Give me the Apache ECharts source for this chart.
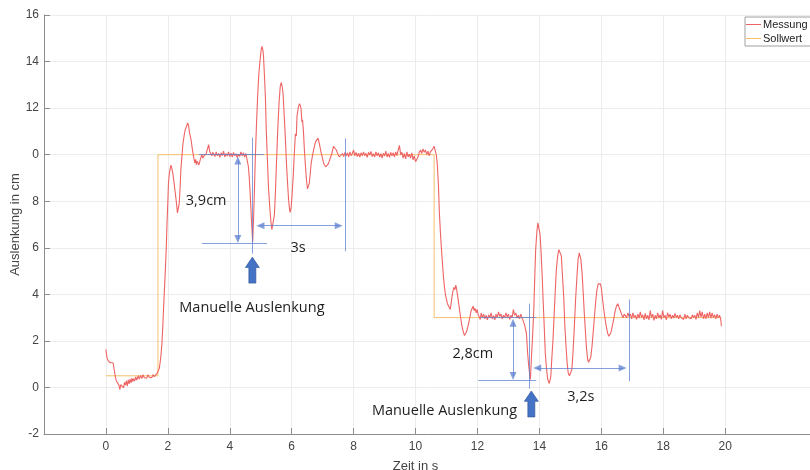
<!DOCTYPE html>
<html>
<head>
<meta charset="utf-8">
<script src="https://cdn.jsdelivr.net/npm/echarts@6/dist/echarts.min.js"></script>
<style>
  html, body { margin: 0; padding: 0; background: #fff; }
  #chart { width: 810px; height: 470px; }
</style>
</head>
<body>
<div id="chart"></div>
<script>
// Gemessene Auslenkung [Zeit in s, Auslenkung in cm]
const messung = [
  [0,1.63],[0.03,1.3],[0.07,1.15],[0.1,1.2],[0.14,1.06],[0.18,1.12],[0.23,1.06],[0.27,0.75],[0.3,0.49],[0.33,0.3],
  [0.36,0.22],[0.39,0.3],[0.42,0.1],[0.45,-0.09],[0.48,0.12],[0.51,0.05],[0.54,0.18],[0.57,-0.02],[0.6,0.22],[0.63,0.1],
  [0.66,0.28],[0.69,0.06],[0.72,0.33],[0.75,0.15],[0.78,0.36],[0.81,0.2],[0.84,0.4],[0.87,0.25],[0.9,0.38],[0.93,0.28],
  [0.96,0.45],[1.0,0.32],[1.04,0.5],[1.08,0.36],[1.12,0.52],[1.16,0.38],[1.2,0.55],[1.24,0.42],[1.28,0.5],[1.32,0.4],
  [1.36,0.55],[1.4,0.44],[1.44,0.52],[1.48,0.42],[1.52,0.55],[1.56,0.46],[1.6,0.52],[1.64,0.58],[1.68,0.62],[1.72,0.8],
  [1.75,1.06],[1.78,1.4],[1.81,1.92],[1.84,2.7],[1.86,3.35],[1.89,4.2],[1.92,5.06],[1.95,6.0],[1.97,6.92],[2.0,8.0],
  [2.02,8.78],[2.05,9.2],[2.08,9.43],[2.1,9.55],[2.12,9.45],[2.14,9.5],[2.16,9.21],[2.2,8.8],[2.24,8.36],[2.28,7.9],
  [2.31,7.5],[2.34,7.7],[2.37,7.93],[2.4,8.7],[2.42,9.36],[2.46,10.0],[2.49,10.5],[2.53,10.85],[2.56,11.07],[2.6,11.2],
  [2.64,11.36],[2.67,11.25],[2.7,10.95],[2.75,10.64],[2.79,10.25],[2.83,9.93],[2.87,9.65],[2.9,9.8],[2.92,9.57],[2.95,9.72],
  [2.97,9.67],[3.0,9.55],[3.02,9.6],[3.06,9.85],[3.1,10.0],[3.13,9.85],[3.17,9.95],[3.2,9.93],[3.24,10.05],[3.28,10.25],
  [3.32,10.43],[3.35,10.15],[3.38,10.14],[3.42,9.95],[3.45,10.1],[3.48,10.07],[3.52,9.92],[3.56,10.12],[3.6,9.95],[3.64,10.05],
  [3.68,9.88],[3.72,10.08],[3.76,9.96],[3.8,10.15],[3.84,9.9],[3.88,10.05],[3.92,9.94],[3.96,10.12],[4.0,9.92],[4.04,10.06],
  [4.08,9.9],[4.12,10.1],[4.16,9.95],[4.2,10.04],[4.24,9.88],[4.28,10.02],[4.32,9.92],[4.36,10.12],[4.4,9.95],[4.44,10.08],
  [4.48,9.9],[4.52,10.05],[4.55,9.98],[4.6,9.5],[4.63,9.0],[4.66,8.3],[4.7,7.2],[4.74,6.24],[4.77,7.3],[4.8,8.6],
  [4.82,9.64],[4.86,11.2],[4.9,12.5],[4.94,13.5],[4.99,14.22],[5.02,14.55],[5.04,14.65],[5.07,14.5],[5.09,14.22],[5.12,13.4],
  [5.15,12.5],[5.18,11.0],[5.22,9.64],[5.25,8.6],[5.29,7.78],[5.33,7.1],[5.36,6.78],[5.39,6.7],[5.41,6.82],[5.44,7.4],
  [5.47,8.21],[5.51,9.7],[5.55,11.07],[5.59,12.2],[5.63,12.93],[5.66,13.1],[5.69,12.95],[5.72,12.65],[5.76,11.64],[5.8,10.6],
  [5.83,9.64],[5.87,8.7],[5.9,8.07],[5.93,7.65],[5.95,7.52],[5.98,7.7],[6.01,8.21],[6.05,9.1],[6.08,9.93],[6.12,10.9],
  [6.15,10.8],[6.17,11.64],[6.21,12.0],[6.25,12.19],[6.28,12.1],[6.3,12.0],[6.33,11.4],[6.35,11.5],[6.38,11.0],[6.41,10.21],
  [6.44,9.6],[6.46,9.21],[6.49,8.75],[6.51,8.53],[6.54,8.6],[6.57,8.78],[6.6,9.2],[6.63,9.64],[6.67,9.95],[6.71,10.21],
  [6.75,10.45],[6.78,10.57],[6.82,10.65],[6.85,10.71],[6.88,10.55],[6.9,10.43],[6.94,10.15],[6.98,9.93],[7.02,9.7],[7.05,9.57],
  [7.1,9.48],[7.14,9.5],[7.18,9.6],[7.21,9.71],[7.26,9.9],[7.3,10.07],[7.33,10.25],[7.35,10.36],[7.38,10.3],[7.41,10.43],
  [7.44,10.2],[7.46,10.14],[7.5,10.0],[7.54,9.9],[7.57,9.86],[7.6,9.95],[7.64,10.05],[7.68,9.92],[7.72,10.1],[7.76,9.95],
  [7.8,10.08],[7.84,9.9],[7.88,10.12],[7.92,9.96],[7.96,10.05],[8.0,10.2],[8.04,9.95],[8.08,10.1],[8.12,9.92],[8.16,10.06],
  [8.2,9.9],[8.24,10.08],[8.28,9.95],[8.32,10.12],[8.36,9.96],[8.4,10.05],[8.44,9.88],[8.48,10.1],[8.52,9.98],[8.56,10.14],
  [8.6,9.92],[8.64,10.04],[8.68,9.9],[8.72,10.12],[8.76,9.95],[8.8,10.08],[8.84,9.9],[8.88,10.04],[8.92,9.85],[8.96,10.06],
  [9.0,9.94],[9.04,10.15],[9.08,9.9],[9.12,10.05],[9.16,9.88],[9.2,10.1],[9.24,9.95],[9.28,10.08],[9.32,9.9],[9.36,10.12],
  [9.4,9.96],[9.44,10.2],[9.48,10.4],[9.52,10.0],[9.56,10.1],[9.6,9.85],[9.64,10.05],[9.68,9.82],[9.72,10.12],[9.76,9.9],
  [9.8,10.02],[9.84,9.85],[9.88,10.08],[9.92,9.78],[9.96,9.95],[10.0,9.7],[10.04,9.64],[10.08,9.9],[10.12,10.1],[10.16,10.2],
  [10.2,10.05],[10.24,10.25],[10.28,10.1],[10.32,10.2],[10.36,10.0],[10.4,10.15],[10.44,9.95],[10.48,10.12],[10.52,10.05],[10.56,10.25],
  [10.6,10.36],[10.64,10.33],[10.67,10.0],[10.7,9.64],[10.74,8.7],[10.77,7.5],[10.81,6.5],[10.86,5.5],[10.9,4.8],[10.93,4.35],
  [10.97,3.95],[11.0,3.78],[11.03,3.6],[11.07,3.49],[11.1,3.42],[11.12,3.35],[11.15,3.6],[11.18,3.92],[11.21,4.15],[11.24,4.3],
  [11.27,4.2],[11.3,4.4],[11.33,4.2],[11.36,3.92],[11.4,3.55],[11.45,3.06],[11.5,2.63],[11.54,2.4],[11.58,2.23],[11.61,2.3],
  [11.64,2.37],[11.68,2.55],[11.72,2.78],[11.76,3.05],[11.79,3.27],[11.83,3.4],[11.86,3.49],[11.89,3.3],[11.92,3.4],[11.96,3.2],
  [11.99,3.35],[12.02,3.15],[12.05,3.08],[12.09,2.92],[12.12,3.2],[12.16,3.0],[12.2,3.15],[12.24,2.95],[12.28,3.1],[12.32,2.9],
  [12.36,3.12],[12.4,3.0],[12.44,3.2],[12.48,2.95],[12.52,3.08],[12.56,2.9],[12.6,3.15],[12.64,3.0],[12.68,3.25],[12.72,3.05],
  [12.76,3.15],[12.8,2.95],[12.84,3.1],[12.88,3.0],[12.92,3.2],[12.96,3.02],[13.0,3.15],[13.04,2.92],[13.08,3.1],[13.12,3.0],
  [13.16,3.35],[13.2,3.1],[13.24,3.2],[13.28,2.98],[13.32,3.1],[13.36,2.95],[13.4,3.15],[13.44,3.0],[13.48,2.92],[13.52,2.7],
  [13.55,2.5],[13.58,2.35],[13.62,1.49],[13.65,1.0],[13.68,0.63],[13.71,0.34],[13.74,1.2],[13.78,2.2],[13.82,3.35],[13.85,4.7],
  [13.88,5.92],[13.92,6.7],[13.95,7.07],[13.99,7.0],[14.02,6.6],[14.05,5.92],[14.09,4.8],[14.12,3.78],[14.16,2.5],[14.19,1.49],
  [14.23,0.8],[14.27,0.34],[14.32,0.17],[14.37,0.49],[14.4,1.2],[14.44,2.06],[14.48,3.2],[14.52,4.35],[14.55,5.1],[14.59,5.64],
  [14.63,5.92],[14.66,6.0],[14.69,5.85],[14.71,5.64],[14.75,4.7],[14.79,3.78],[14.82,2.7],[14.86,1.77],[14.9,1.0],[14.93,0.63],
  [14.97,0.5],[15.0,0.49],[15.05,0.77],[15.09,1.6],[15.13,2.63],[15.17,3.8],[15.22,4.92],[15.25,5.5],[15.29,5.78],[15.32,5.7],
  [15.34,5.5],[15.38,4.9],[15.41,4.21],[15.45,3.2],[15.49,2.35],[15.52,1.7],[15.56,1.2],[15.59,1.08],[15.62,1.06],[15.66,1.3],
  [15.7,1.77],[15.74,2.4],[15.78,3.06],[15.82,3.7],[15.86,4.21],[15.9,4.45],[15.94,4.52],[15.97,4.45],[16.0,4.28],[16.04,3.8],
  [16.08,3.35],[16.12,2.95],[16.16,2.63],[16.2,2.35],[16.24,2.2],[16.28,2.25],[16.31,2.35],[16.35,2.6],[16.4,2.92],[16.44,3.25],
  [16.49,3.49],[16.53,3.6],[16.56,3.62],[16.6,3.35],[16.64,3.2],[16.7,2.99],[16.74,3.15],[16.78,3.13],[16.82,3.0],[16.86,3.2],
  [16.9,3.05],[16.94,3.15],[16.98,2.95],[17.02,3.2],[17.06,3.0],[17.1,3.1],[17.14,2.92],[17.18,3.15],[17.22,2.98],[17.26,3.25],
  [17.3,3.0],[17.34,3.12],[17.38,2.9],[17.42,3.18],[17.46,2.95],[17.5,3.1],[17.54,2.9],[17.58,3.3],[17.62,3.0],[17.66,3.15],
  [17.7,2.88],[17.74,3.1],[17.78,2.95],[17.82,3.2],[17.86,2.98],[17.9,3.12],[17.94,2.92],[17.98,3.3],[18.02,3.0],[18.06,3.1],
  [18.1,2.9],[18.14,3.2],[18.18,3.02],[18.22,3.15],[18.26,2.95],[18.3,3.1],[18.34,2.98],[18.38,3.18],[18.42,3.0],[18.46,3.1],
  [18.5,2.95],[18.54,3.12],[18.58,3.0],[18.62,3.08],[18.66,2.92],[18.7,3.15],[18.74,2.95],[18.78,3.1],[18.82,3.0],[18.86,3.05],
  [18.9,2.95],[18.94,3.12],[18.98,3.0],[19.02,3.1],[19.06,2.92],[19.1,3.2],[19.14,3.0],[19.18,3.3],[19.22,3.02],[19.26,3.25],
  [19.3,2.95],[19.34,3.15],[19.38,2.95],[19.42,3.2],[19.46,3.0],[19.5,3.25],[19.54,2.98],[19.58,3.2],[19.62,3.0],[19.66,3.12],
  [19.7,2.95],[19.74,3.15],[19.78,3.0],[19.82,3.1],[19.86,2.9],[19.88,2.63]
];

// Sollwert-Verlauf (Sprungfunktion)
const sollwert = [[0,0.5],[1.68,0.5],[1.68,10],[10.6,10],[10.6,3],[19.88,3]];

// Achsenbeschriftungen
const zeitTicks = [0,2,4,6,8,10,12,14,16,18,20];
const auslenkungWerte = [-2,0,2,4,6,8,10,12,14,16];
const auslenkungLabels = ['-2','0','2','4','6','8','0','12','14','16'];

// Bemaßungen: Linien [x1,y1,x2,y2, Pfeile]
const bemassung = [
  [3.0,10.0,5.1,10.0,false], [3.1,6.2,5.2,6.2,false], [4.26,9.75,4.26,6.38,true],
  [4.74,10.73,4.74,5.75,false], [4.99,6.95,7.52,6.95,true], [7.72,10.7,7.72,5.85,false],
  [12.1,3.03,13.9,3.03,false], [12.03,0.3,13.9,0.3,false], [13.15,2.78,13.15,0.49,true],
  [13.68,3.6,13.68,-0.05,false], [13.93,0.84,16.69,0.84,true], [16.89,3.78,16.89,0.27,false]
];
// Beschriftungen [x, y, Text]
const beschriftung = [
  [2.58,8.03,'3,9cm'], [5.96,6.0,'3s'], [2.37,3.43,'Manuelle Auslenkung'],
  [11.19,1.46,'2,8cm'], [14.9,-0.39,'3,2s'], [8.59,-1.02,'Manuelle Auslenkung']
];
// Blockpfeile für den Zeitpunkt der manuellen Auslenkung [x, y]
const pfeile = [[4.73,5.04],[13.74,-0.71]];

const axisGray = '#8c8c8c';
const labelGray = '#444444';
const blau = '#5b7fd0';

const chart = echarts.init(document.getElementById('chart'), null, { renderer: 'canvas' });

const option = {
  animation: false,
  backgroundColor: '#ffffff',
  grid: { left: 44, top: 15, bottom: 36, right: -39, containLabel: false, outerBoundsMode: 'none' },
  legend: {
    data: ['Messung', 'Sollwert'],
    orient: 'vertical',
    left: 745, top: 17,
    icon: 'rect', itemWidth: 15, itemHeight: 1, itemGap: 3,
    padding: [2, 40, 2, 1],
    backgroundColor: '#ffffff',
    borderColor: '#a0a0a0', borderWidth: 1, borderRadius: 0,
    textStyle: { fontFamily: 'Liberation Sans, Arial, sans-serif', fontSize: 11, color: '#222', padding: [0,0,0,-3] },
    selectedMode: false
  },
  xAxis: {
    type: 'value', min: -2, max: 24,
    name: 'Zeit in s', nameLocation: 'middle', nameGap: 26, nameMoveOverlap: false,
    nameTextStyle: { fontFamily: 'Liberation Sans, Arial, sans-serif', fontSize: 13, color: labelGray, padding: [0, 62, 0, 0] },
    axisLine: { onZero: false, lineStyle: { color: axisGray, width: 1 } },
    axisTick: { inside: true, length: 6, customValues: zeitTicks, lineStyle: { color: axisGray } },
    axisLabel: { customValues: zeitTicks, margin: 7, fontFamily: 'Liberation Sans, Arial, sans-serif', fontSize: 12, color: labelGray },
    splitLine: { show: true, lineStyle: { color: '#ececec', width: 1 } }
  },
  yAxis: {
    type: 'value', min: -2, max: 16, interval: 2,
    name: 'Auslenkung in cm', nameLocation: 'middle', nameGap: 22, nameMoveOverlap: false,
    nameTextStyle: { fontFamily: 'Liberation Sans, Arial, sans-serif', fontSize: 13, color: labelGray },
    axisLine: { show: true, onZero: false, lineStyle: { color: axisGray, width: 1 } },
    axisTick: { show: true, inside: true, length: 6, lineStyle: { color: axisGray } },
    axisLabel: {
      margin: 5, fontFamily: 'Liberation Sans, Arial, sans-serif', fontSize: 12, color: labelGray,
      formatter: v => { const i = auslenkungWerte.indexOf(v); return i >= 0 ? auslenkungLabels[i] : ''; }
    },
    splitLine: { show: true, lineStyle: { color: '#ececec', width: 1 } }
  },
  series: [
    {
      name: 'Sollwert', type: 'line', data: sollwert, symbol: 'none', silent: true,
      itemStyle: { color: '#f5c06a' },
      lineStyle: { color: '#f5c06a', width: 1 }, z: 2
    },
    {
      name: 'Messung', type: 'line', data: messung, symbol: 'none', silent: true,
      itemStyle: { color: '#ee6464' },
      lineStyle: { color: '#ee6464', width: 1.1 }, z: 3
    },
    {
      name: 'Bemaßung', type: 'line', data: [], silent: true, z: 4,
      markLine: {
        silent: true, animation: false,
        label: { show: false },
        emphasis: { disabled: true },
        symbolSize: [7, 8],
        lineStyle: { color: blau, width: 1, type: 'solid', opacity: 0.75 },
        data: bemassung.map(b => [
          { coord: [b[0], b[1]], symbol: b[4] ? 'triangle' : 'none' },
          { coord: [b[2], b[3]], symbol: b[4] ? 'triangle' : 'none' }
        ])
      },
      markPoint: {
        silent: true, animation: false,
        data: beschriftung.map(t => ({
          coord: [t[0], t[1]], symbol: 'circle', symbolSize: 0,
          label: {
            show: true, position: 'right', distance: 0, formatter: t[2],
            fontFamily: 'Open Sans, Noto Sans, sans-serif', fontSize: 14.5, color: '#1e1e1e'
          }
        })).concat(pfeile.map(p => ({
          coord: [p[0], p[1]],
          symbol: 'path://M7,0 L14,10 L10.5,10 L10.5,25 L3.5,25 L3.5,10 L0,10 Z',
          symbolSize: [14, 26], symbolKeepAspect: false,
          itemStyle: { color: '#4472c4', borderColor: '#2f5597', borderWidth: 0.6 },
          label: { show: false }
        })))
      }
    }
  ]
};

chart.setOption(option);
</script>
</body>
</html>
